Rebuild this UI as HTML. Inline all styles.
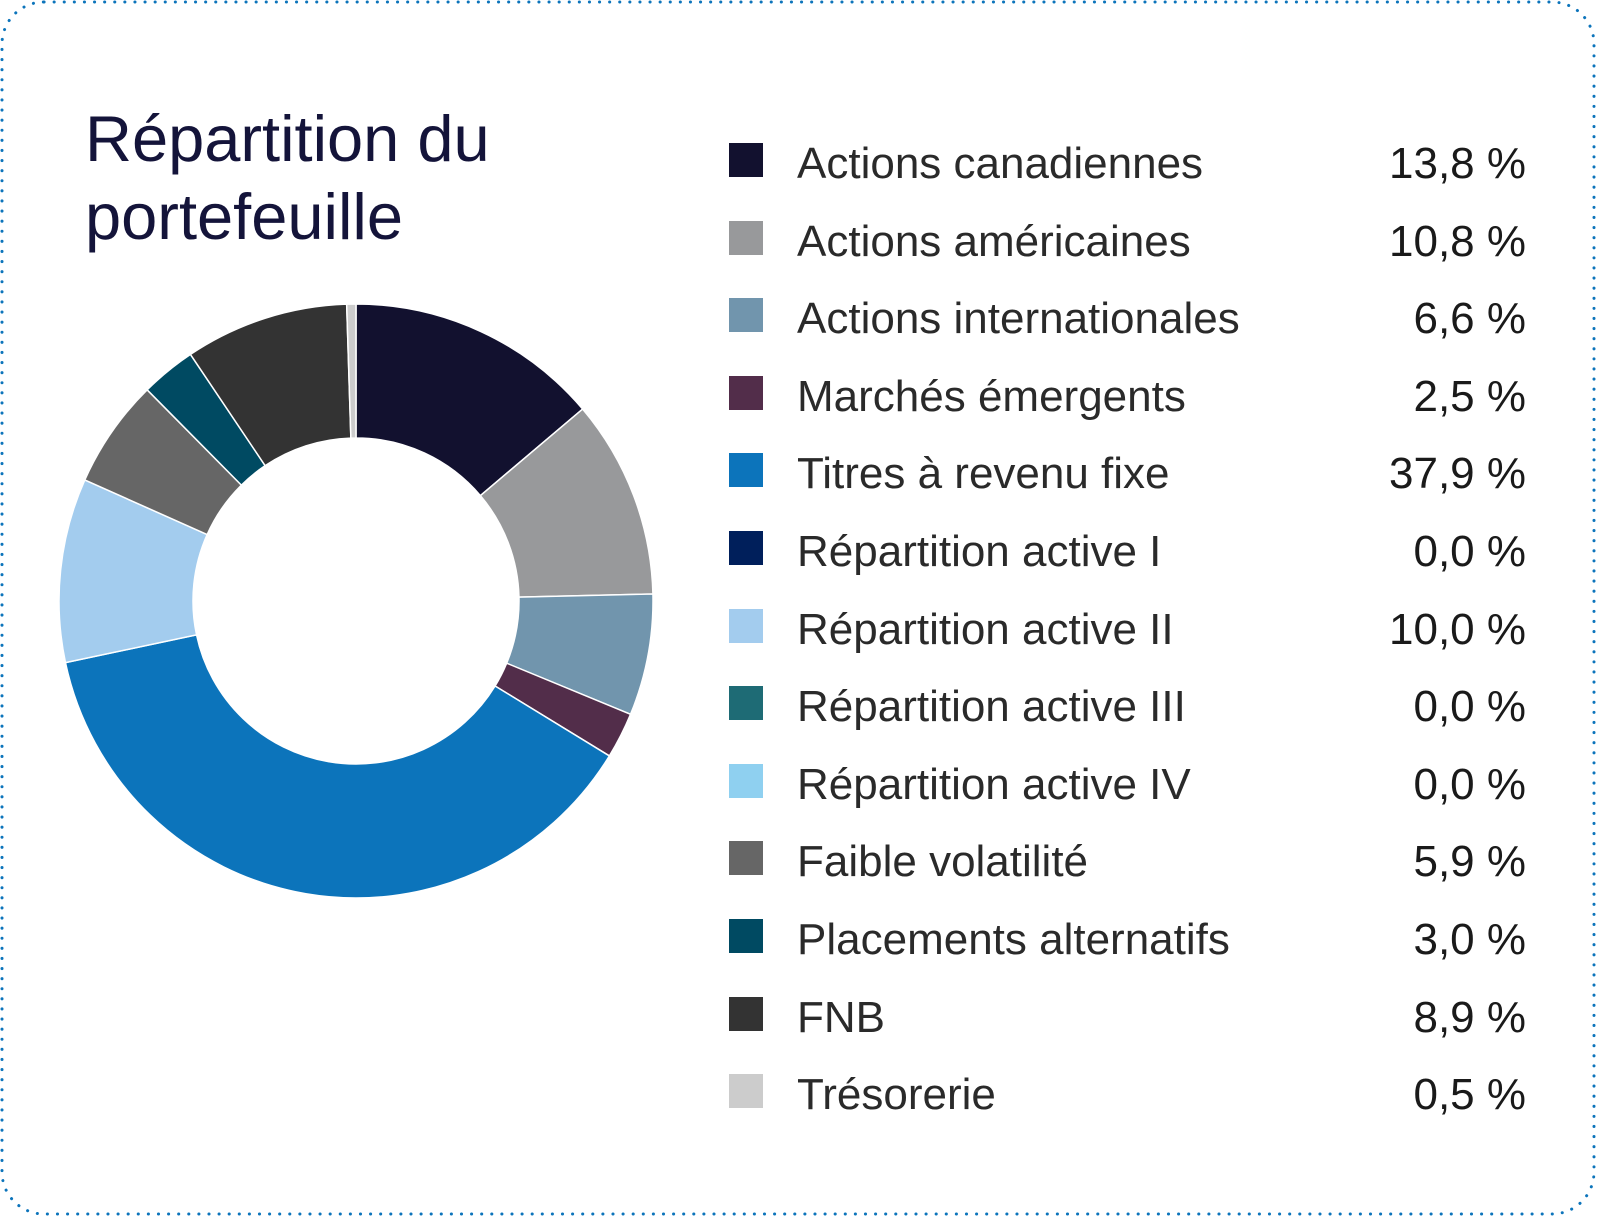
<!DOCTYPE html>
<html><head><meta charset="utf-8"><style>
html,body{margin:0;padding:0;background:#fff;}
body{width:1597px;height:1217px;position:relative;overflow:hidden;font-family:"Liberation Sans",sans-serif;}
.t{position:absolute;left:85px;top:100px;font-size:65px;line-height:78px;color:#14143a;}
.row{position:absolute;left:729px;width:797px;height:40px;}
.sq{position:absolute;left:0;top:3px;width:34px;height:34px;}
.lb{position:absolute;left:68px;top:-4px;font-size:44px;color:#2a2a2a;white-space:nowrap;line-height:56px;}
.v{position:absolute;right:0;top:-4px;font-size:44px;color:#1a1a1a;line-height:56px;}
</style></head><body>
<svg width="1597" height="1217" style="position:absolute;left:0;top:0">
<rect x="2" y="2" width="1592" height="1212" rx="42" ry="42" fill="none" stroke="#0c74bb" stroke-width="3" stroke-dasharray="0.1 10" stroke-linecap="round"/>
<g id="d"></g>
</svg>
<div class="t">Répartition du<br>portefeuille</div>
<div id="leg"></div>
<script>
var data=[["Actions canadiennes","13,8 %",13.8,"#12112f"],["Actions américaines","10,8 %",10.8,"#98999b"],["Actions internationales","6,6 %",6.6,"#7195ad"],["Marchés émergents","2,5 %",2.5,"#522d4a"],["Titres à revenu fixe","37,9 %",37.9,"#0c74bb"],["Répartition active I","0,0 %",0,"#001f5b"],["Répartition active II","10,0 %",10,"#a3ccee"],["Répartition active III","0,0 %",0,"#1e6b75"],["Répartition active IV","0,0 %",0,"#8fd0f0"],["Faible volatilité","5,9 %",5.9,"#666666"],["Placements alternatifs","3,0 %",3,"#004a62"],["FNB","8,9 %",8.9,"#333333"],["Trésorerie","0,5 %",0.5,"#cccccc"]];
var cx=356,cy=601,R=297,r=163,tot=0;data.forEach(function(d){tot+=d[2];});
var a=0,g=document.getElementById('d'),h='',L='';
function p(rad,t){return [cx+rad*Math.sin(t),cy-rad*Math.cos(t)];}
data.forEach(function(d,i){
 if(d[2]>0){var a2=a+d[2]/tot*2*Math.PI,lg=(a2-a)>Math.PI?1:0;
 var p1=p(R,a),p2=p(R,a2),p3=p(r,a2),p4=p(r,a);
 h+='<path fill="'+d[3]+'" stroke="#fff" stroke-width="1.5" d="M'+p1+' A'+R+' '+R+' 0 '+lg+' 1 '+p2+' L'+p3+' A'+r+' '+r+' 0 '+lg+' 0 '+p4+'Z"/>';a=a2;}
 L+='<div class="row" style="top:'+(140+i*77.6)+'px"><div class="sq" style="background:'+d[3]+'"></div><div class="lb">'+d[0]+'</div><div class="v">'+d[1]+'</div></div>';
});
g.innerHTML=h;document.getElementById('leg').innerHTML=L;
</script>
</body></html>
